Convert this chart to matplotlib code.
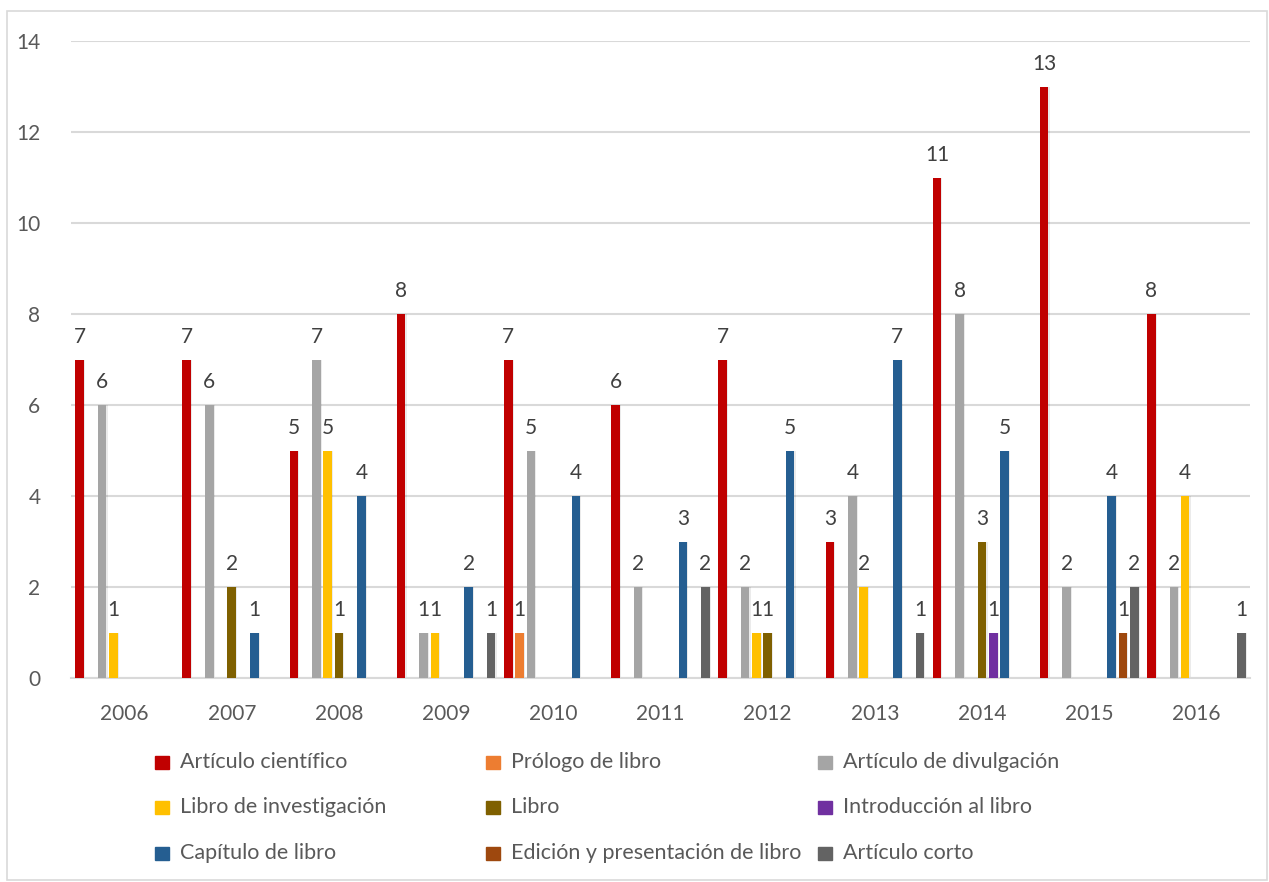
import numpy as np
import matplotlib
matplotlib.use("Agg")
import matplotlib.pyplot as plt
from matplotlib.patches import Rectangle

plt.rcParams['font.family'] = ['Lato', 'DejaVu Sans']

# Data
years = ["2006", "2007", "2008", "2009", "2010", "2011",
         "2012", "2013", "2014", "2015", "2016"]
series_names = ["Artículo científico", "Prólogo de libro", "Artículo de divulgación",
                "Libro de investigación", "Libro", "Introducción al libro",
                "Capítulo de libro", "Edición y presentación de libro", "Artículo corto"]
articulo_cientifico = [7, 7, 5, 8, 7, 6, 7, 3, 11, 13, 8]
prologo_libro = [0, 0, 0, 0, 1, 0, 0, 0, 0, 0, 0]
articulo_divulgacion = [6, 6, 7, 1, 5, 2, 2, 4, 8, 2, 2]
libro_investigacion = [1, 0, 5, 1, 0, 0, 1, 2, 0, 0, 4]
libro = [0, 2, 1, 0, 0, 0, 1, 0, 3, 0, 0]
introduccion_libro = [0, 0, 0, 0, 0, 0, 0, 0, 1, 0, 0]
capitulo_libro = [0, 1, 4, 2, 4, 3, 5, 7, 5, 4, 0]
edicion_presentacion = [0, 0, 0, 0, 0, 0, 0, 0, 0, 1, 0]
articulo_corto = [0, 0, 0, 1, 0, 2, 0, 1, 0, 2, 1]

all_series = [articulo_cientifico, prologo_libro, articulo_divulgacion,
              libro_investigacion, libro, introduccion_libro,
              capitulo_libro, edicion_presentacion, articulo_corto]
colors = ["#C00000", "#ED7D31", "#A5A5A5", "#FFC000", "#7F6000",
          "#7030A0", "#255E91", "#9E480E", "#636363"]

text_col = "#595959"
grid_col = "#D9D9D9"

fig = plt.figure(figsize=(12.69, 8.82), dpi=100)
ax = fig.add_axes([71 / 1269, 1 - 678 / 882, (1250 - 71) / 1269, (678 - 41) / 882])

x = np.arange(len(years))
slot = 0.105
width = 0.08
n = len(all_series)

for k, (vals, col) in enumerate(zip(all_series, colors)):
    pos = x + (k - (n - 1) / 2) * slot
    v = np.array(vals, dtype=float)
    # soft shadow behind each bar
    ax.bar(pos + 0.006, v, width=width + 0.01, color="#000000", alpha=0.08,
           zorder=2, linewidth=0)
    ax.bar(pos, v, width=width, color=col, zorder=3, linewidth=0)
    for px, val in zip(pos, v):
        if val > 0:
            ax.text(px, val + 0.28, f"{int(val)}", ha="center", va="bottom",
                    fontsize=15, color="#404040", zorder=4)

ax.set_ylim(0, 14)
ax.set_xlim(-0.5, len(years) - 0.5)
ax.set_yticks(np.arange(0, 15, 2))
ax.set_xticks(x)
ax.set_xticklabels(years)
ax.yaxis.grid(True, color=grid_col, linewidth=1.5, zorder=0)
ax.set_axisbelow(True)
for s in ["top", "right", "left"]:
    ax.spines[s].set_visible(False)
ax.spines["bottom"].set_color(grid_col)
ax.spines["bottom"].set_linewidth(1.5)
ax.tick_params(axis="both", length=0, colors=text_col, labelsize=15)
ax.tick_params(axis="y", pad=22)
ax.tick_params(axis="x", pad=19)

# Legend drawn as three equal columns like the original
col_x = [155, 486, 818]
row_y = [762, 807, 853]
for i, (name, col) in enumerate(zip(series_names, colors)):
    r, c = divmod(i, 3)
    fx = col_x[c] / 1269
    fy = 1 - row_y[r] / 882
    fig.patches.append(Rectangle((fx, fy - 6.5 / 882), 14 / 1269, 13 / 882,
                                 transform=fig.transFigure, color=col))
    fig.text(fx + 25 / 1269, fy, name, ha="left", va="center",
             fontsize=15.5, color=text_col)

# chart border
fig.patches.append(Rectangle((7 / 1269, 2 / 882), 1260 / 1269, 869 / 882,
                             transform=fig.transFigure, fill=False,
                             edgecolor=grid_col, linewidth=1.2))

fig.savefig("out.png", dpi=100)
